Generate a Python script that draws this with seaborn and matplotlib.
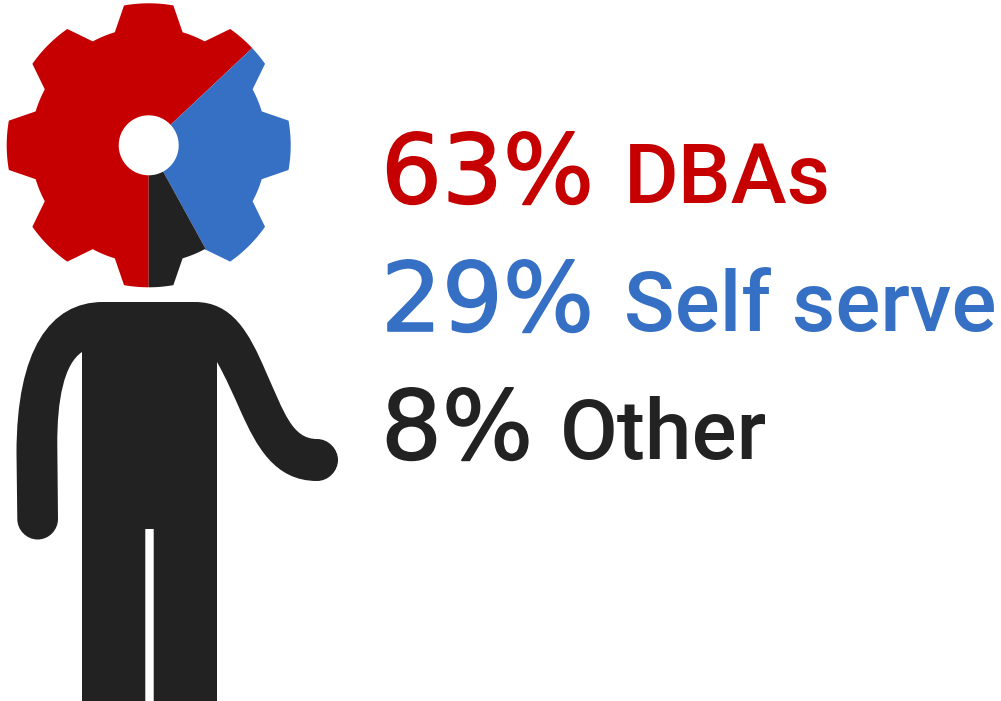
import numpy as np
import matplotlib
matplotlib.use("Agg")
import matplotlib.pyplot as plt
import matplotlib.patheffects as pe
from matplotlib.path import Path
from matplotlib.patches import PathPatch
import seaborn as sns

# Share of database work by who does it
groups = ["DBAs", "Self serve", "Other"]
shares = [63, 29, 8]
colors = ["#C60000", "#3670C4", "#222222"]

W, H = 1001, 701
GEAR_CX, GEAR_CY = 148.7, H - 145.3
GEAR_OUTER, GEAR_ROOT, GEAR_HOLE = 142.0, 118.0, 30.0
TEETH = 8
INK = "#222222"

sns.set_theme(style="white", rc={"figure.facecolor": "white", "axes.facecolor": "white"})
palette = sns.color_palette(colors)

fig = plt.figure(figsize=(W / 100, H / 100), dpi=100)
ax = fig.add_axes([0, 0, 1, 1])


def gear_outline():
    """Closed cog outline: flat-topped teeth joined by arcs at the root circle."""
    pts = []
    for k in range(TEETH):
        mid = k * 360 / TEETH
        tip = np.radians(np.linspace(mid - 10, mid + 10, 24))
        pts += [(GEAR_OUTER * np.sin(a), GEAR_OUTER * np.cos(a)) for a in tip]
        root = np.radians(np.linspace(mid + 16.7, mid + 28.3, 12))
        pts += [(GEAR_ROOT * np.sin(a), GEAR_ROOT * np.cos(a)) for a in root]
    pts = np.array(pts) + [GEAR_CX, GEAR_CY]
    return Path(np.vstack([pts, pts[0]]), closed=True)


# The cog is a ring pie trimmed to the gear outline
wedges, _ = ax.pie(
    shares,
    colors=palette,
    center=(GEAR_CX, GEAR_CY),
    radius=GEAR_OUTER + 2,
    startangle=-90,
    counterclock=False,
    wedgeprops={"width": GEAR_OUTER + 2 - GEAR_HOLE, "linewidth": 0},
)
clip = PathPatch(gear_outline(), transform=ax.transData)
for wedge in wedges:
    wedge.set_clip_on(True)
    wedge.set_clip_path(clip)

# Body silhouette, traced with y measured down from the top edge
M, L, C = Path.MOVETO, Path.LINETO, Path.CURVE4
body = [
    (M, (82, 701)), (L, (82, 352)),
    (C, (64, 364)), (C, (57, 400)), (C, (57.3, 445)),
    (L, (58, 519)),
    (C, (58, 530)), (C, (49, 539.5)), (C, (37.7, 539.5)),
    (C, (26.4, 539.5)), (C, (17.3, 530)), (C, (17.3, 519)),
    (L, (16.5, 453)),
    (C, (16.5, 350)), (C, (50, 302)), (C, (103, 302)),
    (L, (195, 302)),
    (C, (232, 302)), (C, (249, 332)), (C, (266, 372)),
    (C, (284, 412)), (C, (292, 439)), (C, (317, 439)),
    (C, (328.5, 439)), (C, (338, 449)), (C, (338, 460)),
    (C, (338, 471)), (C, (328.5, 481)), (C, (317, 481)),
    (C, (274, 481)), (C, (256, 445)), (C, (241, 412)),
    (C, (233, 394)), (C, (226, 378)), (C, (217, 362)),
    (L, (217, 701)), (L, (153.7, 701)), (L, (153.7, 529)),
    (L, (145.3, 529)), (L, (145.3, 701)), (L, (82, 701)),
]
codes = [c for c, _ in body]
verts = [(x, H - y) for _, (x, y) in body]
ax.add_patch(PathPatch(Path(verts, codes), facecolor=INK, edgecolor="none"))

# Percentage and group name, one row per slice
baselines = [203, 331, 459]
name_x = [624, 624, 560]
for share, group, color, base, nx in zip(shares, groups, palette, baselines, name_x):
    number = ax.text(381, H - base, f"{share}%", color=color, family="DejaVu Sans",
                     fontsize=69, va="baseline", ha="left")
    number.set_path_effects([pe.withStroke(linewidth=1.2, foreground=color)])
    ax.text(nx, H - base, group, color=color, family="Roboto", weight="medium",
            fontsize=60.4, va="baseline", ha="left")

ax.set_xlim(0, W)
ax.set_ylim(0, H)
ax.set_aspect("equal")
ax.axis("off")
fig.savefig("out.png", dpi=100)
